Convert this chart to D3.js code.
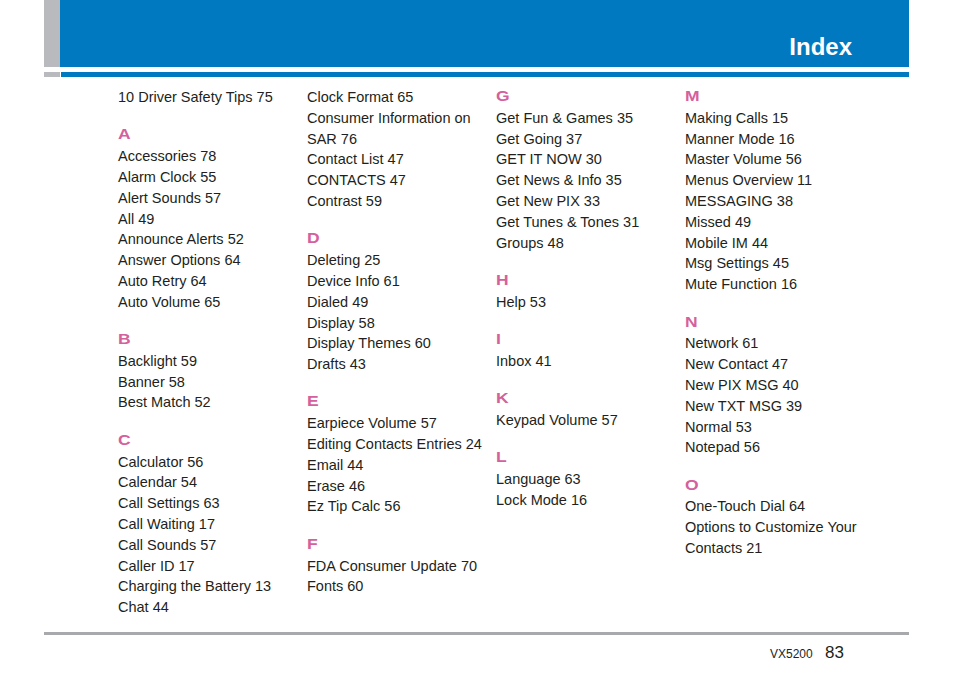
<!DOCTYPE html>
<meta charset="UTF-8">
<style>
	body { margin: 0; background: #fff; }
	.item { font: 14.5px "Liberation Sans", Arial, sans-serif; fill: #231f20; }
	.head { font: bold 14px "Liberation Sans", Arial, sans-serif; fill: #d4609c; }
</style>
<body>
	<script src="https://d3js.org/d3.v7.min.js"></script>
	<script>
		// index columns; single capital letters are section headings
		var col1 = ["10 Driver Safety Tips 75", "A", "Accessories 78", "Alarm Clock 55", "Alert Sounds 57", "All 49",
			"Announce Alerts 52", "Answer Options 64", "Auto Retry 64", "Auto Volume 65", "B", "Backlight 59", "Banner 58",
			"Best Match 52", "C", "Calculator 56", "Calendar 54", "Call Settings 63", "Call Waiting 17", "Call Sounds 57",
			"Caller ID 17", "Charging the Battery 13", "Chat 44"];
		var col2 = ["Clock Format 65", "Consumer Information on", "SAR 76", "Contact List 47", "CONTACTS 47", "Contrast 59",
			"D", "Deleting 25", "Device Info 61", "Dialed 49", "Display 58", "Display Themes 60", "Drafts 43",
			"E", "Earpiece Volume 57", "Editing Contacts Entries 24", "Email 44", "Erase 46", "Ez Tip Calc 56",
			"F", "FDA Consumer Update 70", "Fonts 60"];
		var col3 = ["G", "Get Fun & Games 35", "Get Going 37", "GET IT NOW 30", "Get News & Info 35", "Get New PIX 33",
			"Get Tunes & Tones 31", "Groups 48", "H", "Help 53", "I", "Inbox 41", "K", "Keypad Volume 57",
			"L", "Language 63", "Lock Mode 16"];
		var col4 = ["M", "Making Calls 15", "Manner Mode 16", "Master Volume 56", "Menus Overview 11", "MESSAGING 38",
			"Missed 49", "Mobile IM 44", "Msg Settings 45", "Mute Function 16", "N", "Network 61", "New Contact 47",
			"New PIX MSG 40", "New TXT MSG 39", "Normal 53", "Notepad 56", "O", "One-Touch Dial 64",
			"Options to Customize Your", "Contacts 21"];
		var columns = [col1, col2, col3, col4];

		var W = 954, H = 699;
		var svg = d3.select("body").append("svg").attr("width", W).attr("height", H);

		// header
		svg.append("rect").attr("x", 44).attr("y", 0).attr("width", 16).attr("height", 67).attr("fill", "#b9babd");
		svg.append("rect").attr("x", 60).attr("y", 0).attr("width", 849).attr("height", 67).attr("fill", "#0079c1");
		svg.append("rect").attr("x", 44).attr("y", 72).attr("width", 16).attr("height", 5).attr("fill", "#b9babd");
		svg.append("rect").attr("x", 61).attr("y", 72).attr("width", 848).attr("height", 5).attr("fill", "#0079c1");
		svg.append("text").attr("x", 852).attr("y", 55).attr("text-anchor", "end")
			.style("font", "bold 24px 'Liberation Sans', Arial, sans-serif").attr("fill", "#fff").text("Index");

		// footer
		svg.append("rect").attr("x", 44).attr("y", 632).attr("width", 865).attr("height", 3).attr("fill", "#a7a9ac");
		svg.append("text").attr("x", 770).attr("y", 658).style("font", "12px 'Liberation Sans', Arial, sans-serif")
			.attr("fill", "#231f20").text("VX5200");
		svg.append("text").attr("x", 825).attr("y", 658).style("font", "17px 'Liberation Sans', Arial, sans-serif")
			.attr("fill", "#231f20").text("83");

		var x = d3.scaleBand().domain(d3.range(columns.length)).range([118, 874]).align(0).paddingInner(0);
		var step = 20.8, gap = 17.5, startY = 102;

		columns.forEach(function (col, ci) {
			var y = startY, rows = [];
			col.forEach(function (t, i) {
				var head = /^[A-Z]$/.test(t);
				if (head && i > 0) y += gap;
				rows.push({ t: t, head: head, y: head ? y - 1 : y });
				y += step;
			});
			var cx = x(ci);
			svg.append("g").selectAll("text").data(rows).join("text")
				.attr("class", d => d.head ? "head" : "item")
				.attr("x", 0)
				.attr("y", 0)
				.attr("transform", d => d.head ? `translate(${cx},${d.y}) scale(1.25,1)` : `translate(${cx},${d.y})`)
				.text(d => d.t);
		});
	</script>
</body>
